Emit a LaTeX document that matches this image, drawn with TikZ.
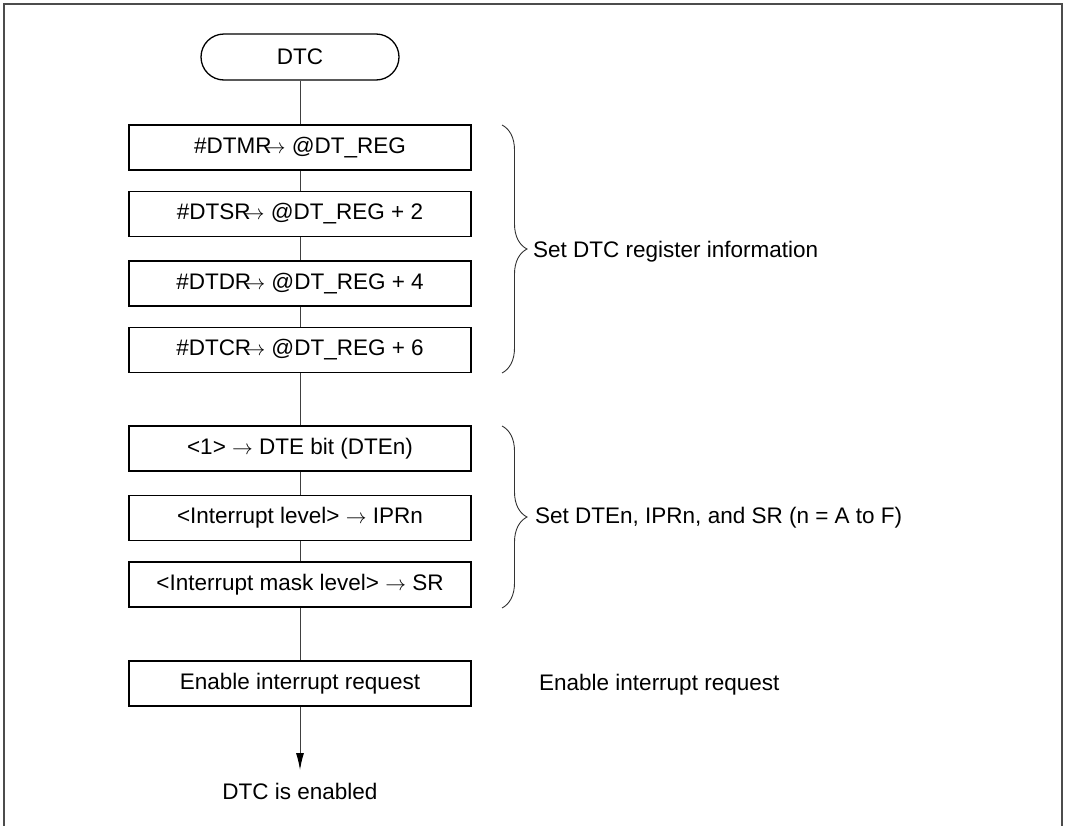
\documentclass[tikz,border=0pt]{standalone}
\usepackage{fontspec}
\setmainfont{Liberation Sans}
\usetikzlibrary{arrows.meta,decorations.pathreplacing}
\tikzset{
    stepbox/.style={draw=black, line width=1.6pt, minimum width=342pt, minimum height=45pt, inner sep=0pt},
    termbox/.style={draw=black, line width=1.3pt, rounded corners=23pt, minimum width=198pt, minimum height=46pt, inner sep=0pt},
    flow/.style={draw=black!75, line width=1pt},
    note/.style={anchor=west, inner sep=0pt},
    curly/.style={decorate, decoration={brace, amplitude=25pt}, draw=black!80, line width=0.9pt}
}
\newcommand{\tto}{\kern-0.3em$\rightarrow$}
\begin{document}
\begin{tikzpicture}[x=1pt, y=-1pt, font=\fontsize{22.5}{27}\selectfont]
            \useasboundingbox (0, 0) rectangle (1068, 825);
            \draw[black!70, line width=2pt] (4, 830) -- (4, 4) -- (1062, 4) -- (1062, 830);
            \node[termbox] (dtc) at (300, 57) {DTC};
            \node[stepbox] (s1) at (300, 147.5) {\#DTMR\tto{} @DT\_REG};
            \node[stepbox] (s2) at (300, 214) {\#DTSR\tto{} @DT\_REG + 2};
            \node[stepbox] (s3) at (300, 283.5) {\#DTDR\tto{} @DT\_REG + 4};
            \node[stepbox] (s4) at (300, 350) {\#DTCR\tto{} @DT\_REG + 6};
            \node[stepbox] (s5) at (300, 448.5) {<1> $\rightarrow$ DTE bit (DTEn)};
            \node[stepbox] (s6) at (300, 518) {<Interrupt level> $\rightarrow$ IPRn};
            \node[stepbox] (s7) at (300, 584.5) {<Interrupt mask level> $\rightarrow$ SR};
            \node[stepbox] (s8) at (300, 683.5) {Enable interrupt request};
            \coordinate (tip) at (300, 770);
            \node (done) at (300, 791) {DTC is enabled};
            \foreach \a/\b in {dtc/s1, s1/s2, s2/s3, s3/s4, s4/s5, s5/s6, s6/s7, s7/s8} \draw[flow] (\a) -- (\b);
            \draw[flow, -{Latex[length=17pt, width=8pt, black]}] (s8) -- (tip);
            % braces and side notes
            \draw[curly] (502, 125) -- (502, 373);
            \node[note] (n1) at (533, 252) {Set DTC register information};
            \draw[curly] (502, 426) -- (502, 608);
            \node[note] (n2) at (535, 518) {Set DTEn, IPRn, and SR (n = A to F)};
            \node[note] (n3) at (539, 685) {Enable interrupt request};
        \end{tikzpicture}
\end{document}
